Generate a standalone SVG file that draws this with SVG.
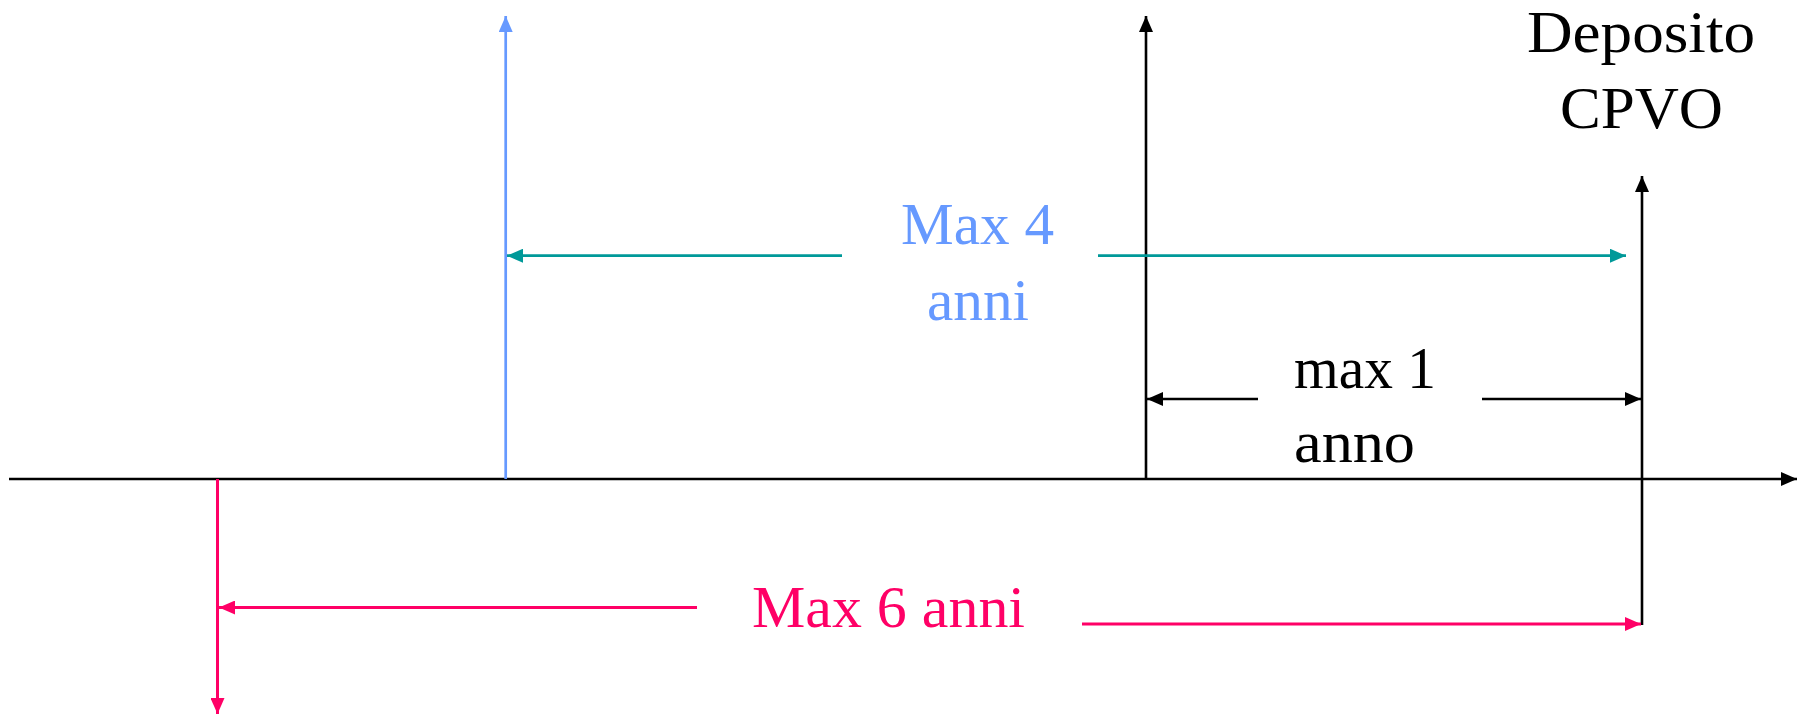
<svg xmlns="http://www.w3.org/2000/svg" width="1798" height="715" viewBox="0 0 1798 715">
<style>
.t{font-family:"Liberation Serif","Times New Roman",serif;font-size:60px}
.k{stroke:#000;stroke-width:2.6;fill:none}
.b{stroke:#6699FF;stroke-width:2.7;fill:none}
.g{stroke:#009999;stroke-width:2.7;fill:none}
.p{stroke:#FF0066;stroke-width:3;fill:none}
</style>
<defs>
<marker id="ak" markerUnits="userSpaceOnUse" markerWidth="16" markerHeight="14" refX="16" refY="7" orient="auto"><path d="M0,0L16,7L0,14z" fill="#000"/></marker>
<marker id="ab" markerUnits="userSpaceOnUse" markerWidth="16" markerHeight="14" refX="16" refY="7" orient="auto"><path d="M0,0L16,7L0,14z" fill="#6699FF"/></marker>
<marker id="ag" markerUnits="userSpaceOnUse" markerWidth="16" markerHeight="14" refX="16" refY="7" orient="auto"><path d="M0,0L16,7L0,14z" fill="#009999"/></marker>
<marker id="ap" markerUnits="userSpaceOnUse" markerWidth="16" markerHeight="14" refX="16" refY="7" orient="auto"><path d="M0,0L16,7L0,14z" fill="#FF0066"/></marker>
</defs>
<rect width="1798" height="715" fill="#fff"/>
<g id="connectors">
<line class="k" x1="9" y1="479" x2="1797" y2="479" marker-end="url(#ak)"/>
<line class="b" x1="505.7" y1="479" x2="505.7" y2="16" marker-end="url(#ab)"/>
<line class="k" x1="1146" y1="479" x2="1146" y2="16" marker-end="url(#ak)"/>
<line class="k" x1="1642" y1="625" x2="1642" y2="176" marker-end="url(#ak)"/>
<line class="p" x1="217.5" y1="479" x2="217.5" y2="714" marker-end="url(#ap)"/>
<line class="g" x1="842" y1="255.7" x2="507" y2="255.7" marker-end="url(#ag)"/>
<line class="g" x1="1098" y1="255.7" x2="1626" y2="255.7" marker-end="url(#ag)"/>
<line class="k" x1="1258" y1="399" x2="1147" y2="399" marker-end="url(#ak)"/>
<line class="k" x1="1482" y1="399" x2="1641" y2="399" marker-end="url(#ak)"/>
<line class="p" x1="697" y1="607.5" x2="219" y2="607.5" marker-end="url(#ap)"/>
<line class="p" x1="1082" y1="624" x2="1641" y2="624" marker-end="url(#ap)"/>
</g>
<g id="deposito">
<text class="t" x="1527" y="51.7" textLength="228" lengthAdjust="spacingAndGlyphs">Deposito</text>
<text class="t" x="1560" y="128" textLength="163" lengthAdjust="spacingAndGlyphs">CPVO</text>
</g>
<g id="max4" fill="#6699FF">
<text class="t" x="901" y="244.3" textLength="153" lengthAdjust="spacingAndGlyphs">Max 4</text>
<text class="t" x="927" y="320" textLength="102" lengthAdjust="spacingAndGlyphs">anni</text>
</g>
<g id="max1">
<text class="t" x="1294" y="387.7" textLength="142" lengthAdjust="spacingAndGlyphs">max 1</text>
<text class="t" x="1294" y="461.7" textLength="121" lengthAdjust="spacingAndGlyphs">anno</text>
</g>
<g id="max6" fill="#FF0066">
<text class="t" x="752" y="626.7" textLength="273" lengthAdjust="spacingAndGlyphs">Max 6 anni</text>
</g>
</svg>
